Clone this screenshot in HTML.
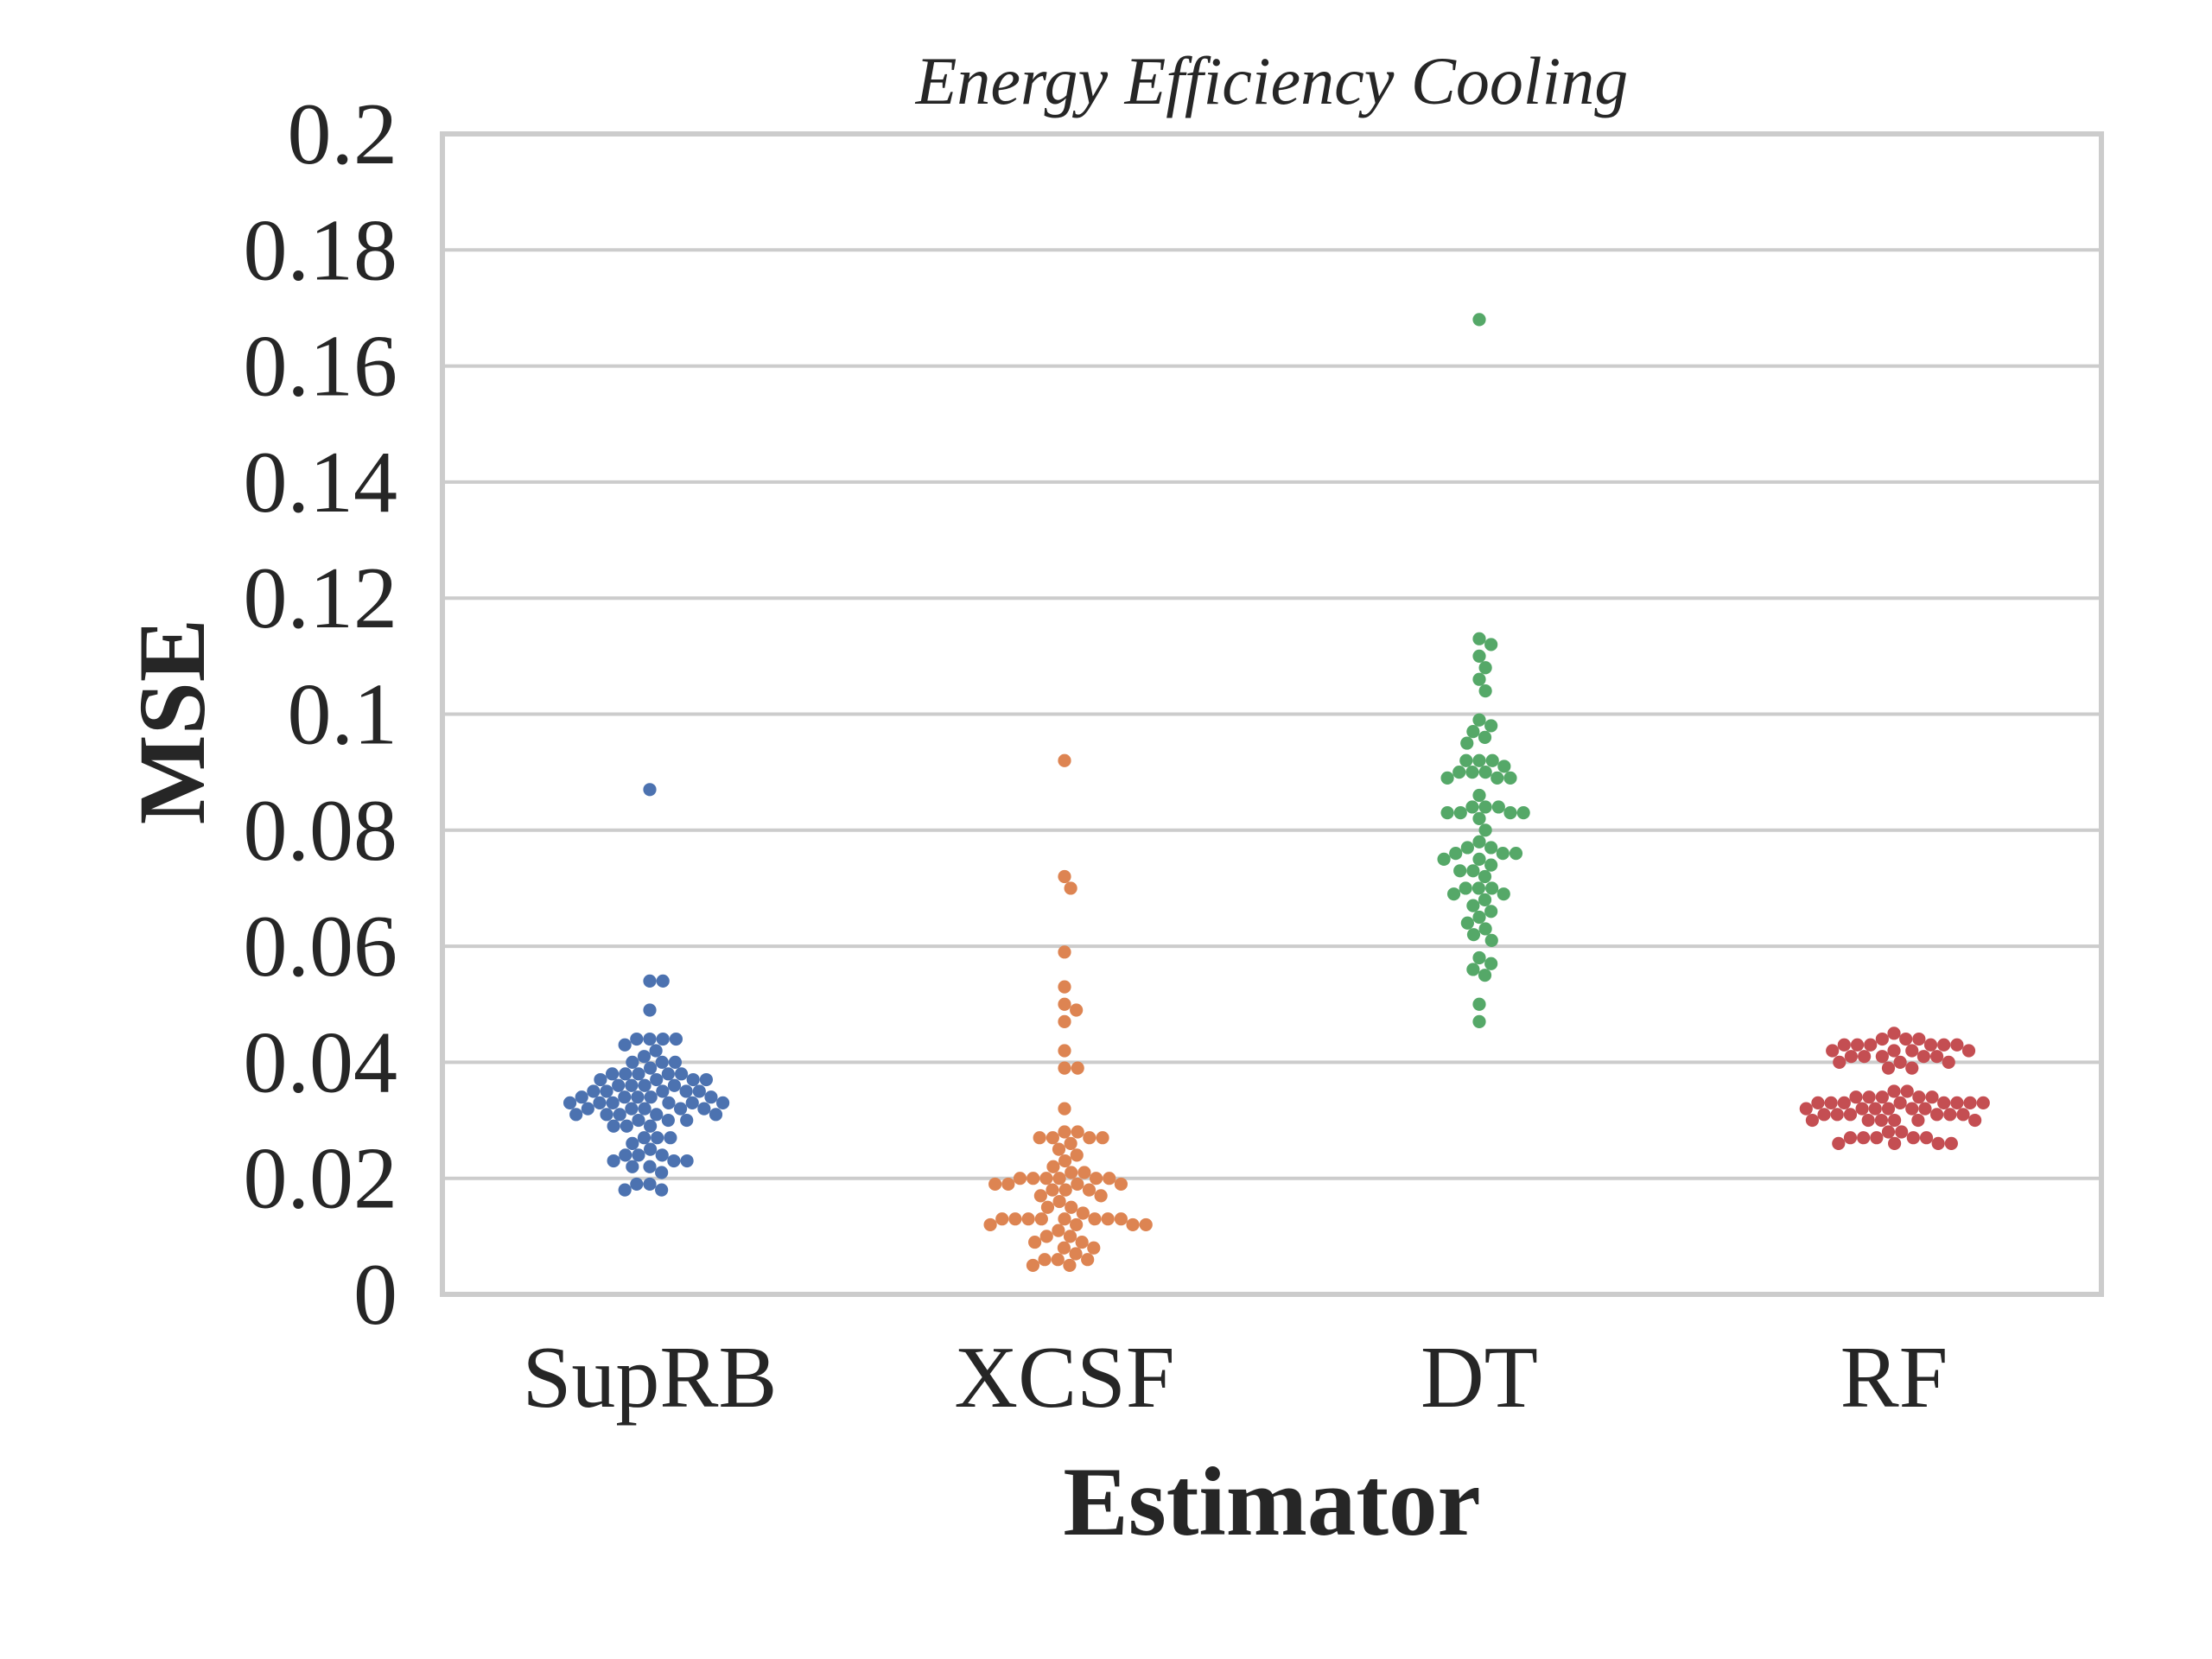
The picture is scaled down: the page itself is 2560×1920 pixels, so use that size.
<!DOCTYPE html>
<html><head><meta charset="utf-8"><style>
html,body{margin:0;padding:0;background:#fff}
svg{display:block}
text{font-family:"Liberation Serif",serif;fill:#262626}
</style></head><body>
<svg id="chart" width="2560" height="1920" viewBox="0 0 2560 1920" xmlns="http://www.w3.org/2000/svg">
<rect width="2560" height="1920" fill="#fff"/>
<g id="grid"></g>
<rect x="512" y="155" width="1920" height="1343" fill="none" stroke="#cccccc" stroke-width="6"/>
<g id="dots"></g>
<g id="labels"></g>
<text x="1472" y="120" font-size="78" font-style="italic" text-anchor="middle">Energy Efficiency Cooling</text>
<text x="1472" y="1776" font-size="113" font-weight="bold" text-anchor="middle">Estimator</text>
<text transform="translate(236,835) rotate(-90)" font-size="110" font-weight="bold" text-anchor="middle">MSE</text>
</svg>
<script>
const categories=["SupRB","XCSF","DT","RF"];
const colors=["#4c72b0","#dd8452","#55a868","#c44e52"];
const yTicks=[0,0.02,0.04,0.06,0.08,0.1,0.12,0.14,0.16,0.18,0.2];
const yTickLabels=["0","0.02","0.04","0.06","0.08","0.1","0.12","0.14","0.16","0.18","0.2"];
const suprb=[0.087,0.054,0.054,0.049,0.044,0.044,0.044,0.044,0.043,0.042,0.041,0.040,0.040,0.040,0.039,0.038,0.038,0.038,0.038,0.038,0.037,0.037,0.037,0.037,0.036,0.036,0.036,0.036,0.035,0.035,0.035,0.035,0.035,0.034,0.034,0.034,0.034,0.034,0.033,0.033,0.033,0.033,0.033,0.033,0.032,0.032,0.032,0.032,0.032,0.031,0.031,0.031,0.031,0.031,0.030,0.030,0.030,0.029,0.029,0.029,0.027,0.027,0.027,0.026,0.025,0.024,0.024,0.024,0.023,0.023,0.023,0.022,0.022,0.021,0.019,0.019,0.018,0.018];
const xcsf=[0.092,0.072,0.070,0.059,0.053,0.050,0.049,0.047,0.042,0.039,0.039,0.032,0.028,0.028,0.027,0.027,0.027,0.027,0.026,0.025,0.024,0.023,0.022,0.021,0.021,0.020,0.020,0.020,0.020,0.020,0.020,0.019,0.019,0.019,0.019,0.018,0.018,0.018,0.017,0.017,0.016,0.015,0.015,0.014,0.013,0.013,0.013,0.013,0.013,0.013,0.013,0.013,0.012,0.012,0.012,0.012,0.011,0.010,0.010,0.009,0.009,0.008,0.008,0.007,0.006,0.006,0.006,0.005,0.005];
const dt=[0.168,0.113,0.112,0.110,0.108,0.106,0.104,0.099,0.098,0.097,0.096,0.095,0.092,0.092,0.092,0.091,0.090,0.090,0.090,0.089,0.089,0.089,0.086,0.084,0.084,0.084,0.083,0.083,0.083,0.083,0.082,0.080,0.078,0.077,0.077,0.076,0.076,0.076,0.075,0.075,0.074,0.073,0.073,0.072,0.070,0.070,0.070,0.069,0.069,0.068,0.067,0.066,0.065,0.064,0.063,0.062,0.061,0.058,0.057,0.056,0.055,0.050,0.047];
const rf=[0.045,0.044,0.044,0.044,0.043,0.043,0.043,0.043,0.043,0.043,0.042,0.042,0.042,0.042,0.041,0.041,0.041,0.041,0.041,0.040,0.040,0.040,0.039,0.039,0.035,0.035,0.034,0.034,0.034,0.034,0.034,0.033,0.033,0.033,0.033,0.033,0.033,0.033,0.033,0.032,0.032,0.032,0.032,0.032,0.032,0.031,0.031,0.031,0.031,0.031,0.031,0.030,0.030,0.030,0.030,0.030,0.030,0.028,0.028,0.027,0.027,0.027,0.027,0.027,0.026,0.026,0.026,0.026];
const series=[suprb,xcsf,dt,rf];

const NS="http://www.w3.org/2000/svg";
const L=512,R=2432,T=155,B=1498,Y0=0,Y1=0.2;
const y=v=>B-(v-Y0)/(Y1-Y0)*(B-T);
const band=(R-L)/categories.length;
const xc=i=>L+band*(i+0.5);
const rad=7.6;

const grid=document.getElementById('grid');
const labels=document.getElementById('labels');
yTicks.forEach((t,i)=>{
  if(i>0&&i<yTicks.length-1){
    const ln=document.createElementNS(NS,'line');
    
    
    ln.setAttribute('x1',L);ln.setAttribute('x2',R);
    ln.setAttribute('y1',y(t));ln.setAttribute('y2',y(t));
    ln.setAttribute('stroke','#cccccc');ln.setAttribute('stroke-width','4');
    grid.appendChild(ln);
  }
  const tx=document.createElementNS(NS,'text');
  
  
  tx.setAttribute('x',460);tx.setAttribute('y',y(t)+34);
  tx.setAttribute('font-size','102');tx.setAttribute('text-anchor','end');
  tx.textContent=yTickLabels[i];
  labels.appendChild(tx);
});
categories.forEach((c,i)=>{
  const tx=document.createElementNS(NS,'text');
  
  
  tx.setAttribute('x',xc(i));tx.setAttribute('y',1628);
  tx.setAttribute('font-size','102');tx.setAttribute('text-anchor','middle');
  tx.textContent=c;
  labels.appendChild(tx);
});

function swarm(vals){
  const d=2*rad, placed=[];
  const sorted=vals.map(v=>y(v)).sort((a,b)=>a-b);
  sorted.forEach(py=>{
    const near=placed.filter(p=>Math.abs(p.y-py)<d);
    const cands=[0];
    near.forEach(p=>{const dx=Math.sqrt(d*d-(p.y-py)**2);cands.push(p.x+dx,p.x-dx);});
    cands.sort((a,b)=>Math.abs(a)-Math.abs(b));
    let best=0;
    for(const cx of cands){
      if(near.every(p=>(p.x-cx)**2+(p.y-py)**2>=d*d-0.01)){best=cx;break;}
    }
    placed.push({x:best,y:py});
  });
  return placed;
}
const dots=document.getElementById('dots');
series.forEach((s,i)=>{
  const g=document.createElementNS(NS,'g');
  
  
  swarm(s).forEach(p=>{
    const c=document.createElementNS(NS,'circle');
    
    
    c.setAttribute('cx',xc(i)+p.x);c.setAttribute('cy',p.y);
    c.setAttribute('r',rad);c.setAttribute('fill',colors[i]);
    g.appendChild(c);
  });
  dots.appendChild(g);
});
</script>
</body></html>
